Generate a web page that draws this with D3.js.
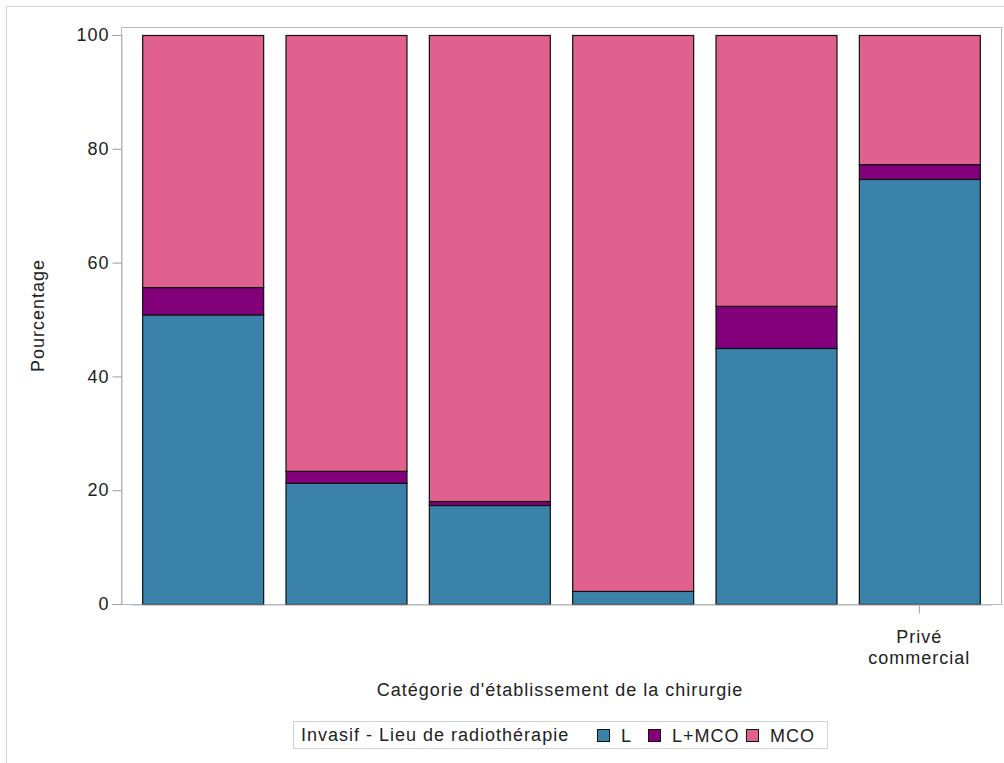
<!DOCTYPE html>
<html>
<head>
<meta charset="utf-8">
<script src="https://cdn.jsdelivr.net/npm/d3@7"></script>
<style>
  html, body { margin: 0; padding: 0; background: #fff; }
  svg { display: block; font-family: "Liberation Sans", Arial, sans-serif; }
  .lbl { letter-spacing: 1px; }
</style>
</head>
<body>
<svg id="chart" width="1004" height="763"></svg>
<script>
// Establishment categories (only the last label is printed on the axis)
const categories = ["CHU/CHR", "CH", "CLCC", "ESPIC", "Privé non lucratif", "Privé commercial"];
const shownLabels = ["", "", "", "", "", "Privé commercial"];

// Radiotherapy place, percentages per category
const seriesNames = ["L", "L+MCO", "MCO"];
const valuesL     = [50.9, 21.3, 17.4, 2.3, 45.0, 74.7];
const valuesLMCO  = [4.8, 2.1, 0.7, 0.0, 7.4, 2.6];
const valuesMCO   = [44.3, 76.6, 81.9, 97.7, 47.6, 22.7];
const seriesColors = ["#3a82aa", "#820079", "#e0608e"];

const yTicks = [0, 20, 40, 60, 80, 100];

const svg = d3.select("#chart");
const W = 1004, H = 763;
const FS = 18;

// outer border
svg.append("rect")
  .attr("x", 6.5).attr("y", 6.5)
  .attr("width", W + 10).attr("height", H + 10)
  .attr("fill", "none").attr("stroke", "#d4d6d8");

const plot = { left: 121, right: 1001, top: 27, bottom: 604 };

const x = d3.scaleBand()
  .domain(categories)
  .range([plot.left + 10, plot.right - 10])
  .paddingInner(0.156)
  .paddingOuter(0.078);

const y = d3.scaleLinear().domain([0, 100]).range([plot.bottom, 35]);

const rows = categories.map((c, i) => ({
  cat: c, "L": valuesL[i], "L+MCO": valuesLMCO[i], "MCO": valuesMCO[i]
}));
const stacked = d3.stack().keys(seriesNames)(rows);

// plot frame
svg.append("rect")
  .attr("x", plot.left + 0.5).attr("y", plot.top + 0.5)
  .attr("width", plot.right - plot.left).attr("height", plot.bottom - plot.top)
  .attr("fill", "none").attr("stroke", "#b4b8bc");

// bars
svg.append("g").selectAll("g")
  .data(stacked)
  .join("g")
  .attr("fill", (d, i) => seriesColors[i])
  .selectAll("rect")
  .data(d => d.filter(s => s[1] - s[0] > 0))
  .join("rect")
  .attr("x", d => x(d.data.cat) + 0.5)
  .attr("y", d => y(d[1]) + 0.5)
  .attr("width", x.bandwidth())
  .attr("height", d => y(d[0]) - y(d[1]))
  .attr("stroke", "#111")
  .attr("stroke-width", 1.2);

// y axis
const yAxis = svg.append("g")
  .attr("transform", `translate(${plot.left + 0.5},0)`)
  .call(d3.axisLeft(y).tickValues(yTicks).tickSize(9).tickPadding(3));
yAxis.select(".domain").attr("stroke", "#b4b8bc");
yAxis.selectAll(".tick line").attr("stroke", "#9a9ea2");
yAxis.selectAll(".tick text")
  .attr("class", "lbl")
  .attr("font-size", FS).attr("fill", "#222")
  .style("font-family", "Liberation Sans, Arial, sans-serif");

// x axis
const xAxis = svg.append("g")
  .attr("transform", `translate(0,${plot.bottom + 0.5})`)
  .call(d3.axisBottom(x).tickSize(0).tickFormat(() => ""));
xAxis.select(".domain").attr("stroke", "#b4b8bc");
xAxis.selectAll(".tick").each(function (d, i) {
  if (!shownLabels[i]) return;
  const g = d3.select(this);
  g.append("line").attr("y1", 0).attr("y2", 9).attr("stroke", "#9a9ea2");
  const words = shownLabels[i].split(" ");
  const t = g.append("text")
    .attr("class", "lbl")
    .attr("text-anchor", "middle").attr("fill", "#222")
    .attr("font-size", FS)
    .style("font-family", "Liberation Sans, Arial, sans-serif");
  words.forEach((w, k) => {
    t.append("tspan").attr("x", 0).attr("y", 38 + k * 21).text(w);
  });
});

// axis titles
svg.append("text")
  .attr("class", "lbl")
  .attr("x", 560)
  .attr("y", 696)
  .attr("text-anchor", "middle")
  .attr("font-size", FS).attr("fill", "#222")
  .text("Catégorie d'établissement de la chirurgie");

svg.append("text")
  .attr("class", "lbl")
  .attr("transform", `translate(44,${(plot.top + plot.bottom) / 2}) rotate(-90)`)
  .attr("text-anchor", "middle")
  .attr("font-size", FS).attr("fill", "#222")
  .text("Pourcentage");

// legend
const legend = svg.append("g");
legend.append("rect")
  .attr("x", 293.5).attr("y", 721.5)
  .attr("width", 534).attr("height", 27)
  .attr("fill", "#fff").attr("stroke", "#cfd2d4");
legend.append("text")
  .attr("class", "lbl")
  .attr("x", 301).attr("y", 741)
  .attr("font-size", FS).attr("fill", "#222")
  .text("Invasif - Lieu de radiothérapie");

const legendX = [597, 648, 746];
seriesNames.forEach((name, i) => {
  const g = legend.append("g").attr("transform", `translate(${legendX[i]},729)`);
  g.append("rect")
    .attr("x", 0.5).attr("y", 0.5).attr("width", 12).attr("height", 12)
    .attr("fill", seriesColors[i]).attr("stroke", "#111");
  g.append("text")
    .attr("class", "lbl")
    .attr("x", 24).attr("y", 12.5)
    .attr("font-size", FS).attr("fill", "#222")
    .text(name);
});
</script>
</body>
</html>
